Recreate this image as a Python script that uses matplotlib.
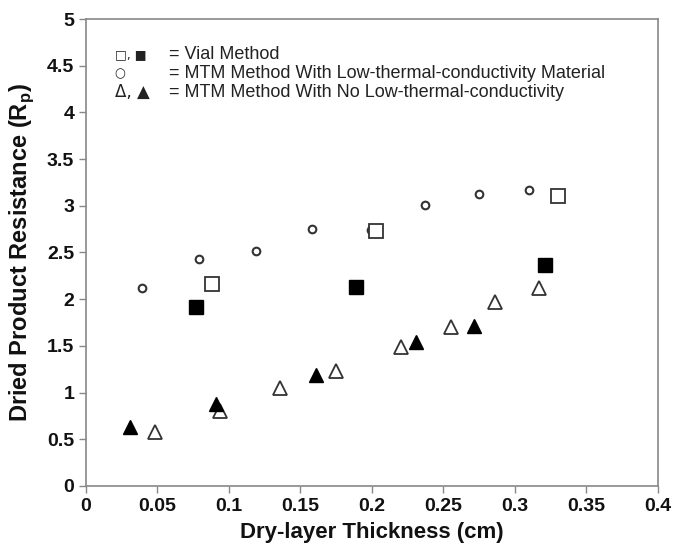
import matplotlib.pyplot as plt

plt.rcParams['font.family'] = ['Liberation Sans', 'DejaVu Sans']

# vial method
vial_open_x = [0.088, 0.203, 0.330]
vial_open_y = [2.16, 2.725, 3.11]
vial_fill_x = [0.077, 0.189, 0.321]
vial_fill_y = [1.92, 2.13, 2.37]

# MTM with low-thermal-conductivity material
mtm_low_x = [0.039, 0.079, 0.119, 0.158, 0.199, 0.237, 0.275, 0.310]
mtm_low_y = [2.12, 2.43, 2.52, 2.75, 2.745, 3.01, 3.125, 3.165]

# MTM with no low-thermal-conductivity material
mtm_no_open_x = [0.048, 0.094, 0.136, 0.175, 0.220, 0.255, 0.286, 0.317]
mtm_no_open_y = [0.58, 0.80, 1.05, 1.235, 1.49, 1.70, 1.97, 2.115]
mtm_no_fill_x = [0.031, 0.091, 0.161, 0.231, 0.271]
mtm_no_fill_y = [0.635, 0.875, 1.19, 1.545, 1.71]

xticks = [0, 0.05, 0.1, 0.15, 0.2, 0.25, 0.3, 0.35, 0.4]
xtick_labels = ['0', '0.05', '0.1', '0.15', '0.2', '0.25', '0.3', '0.35', '0.4']
yticks = [0, 0.5, 1, 1.5, 2, 2.5, 3, 3.5, 4, 4.5, 5]
ytick_labels = ['0', '0.5', '1', '1.5', '2', '2.5', '3', '3.5', '4', '4.5', '5']

fig = plt.figure(figsize=(6.75, 5.46), dpi=100)
ax = fig.add_axes([0.1274, 0.1099, 0.8474, 0.8553])

ax.plot(mtm_low_x, mtm_low_y, 'o', ms=5.5, mfc='white', mec='#333333', mew=1.5, ls='none')
ax.plot(vial_open_x, vial_open_y, 's', ms=10, mfc='white', mec='#333333', mew=1.3, ls='none')
ax.plot(vial_fill_x, vial_fill_y, 's', ms=10, mfc='black', mec='black', ls='none')
ax.plot(mtm_no_open_x, mtm_no_open_y, '^', ms=10, mfc='white', mec='#333333', mew=1.3, ls='none')
ax.plot(mtm_no_fill_x, mtm_no_fill_y, '^', ms=10, mfc='black', mec='black', ls='none')

ax.set_xlim(0, 0.4)
ax.set_ylim(0, 5)
ax.set_xticks(xticks)
ax.set_xticklabels(xtick_labels)
ax.set_yticks(yticks)
ax.set_yticklabels(ytick_labels)
for s in ax.spines.values():
    s.set_color('#888888')
    s.set_linewidth(1.2)
ax.tick_params(direction='out', length=5, width=1, color='#888888',
               labelsize=14, labelcolor='#111111')
for lab in ax.get_xticklabels() + ax.get_yticklabels():
    lab.set_fontweight('bold')

ax.set_xlabel('Dry-layer Thickness (cm)', fontsize=16, fontweight='bold',
              color='#111111', labelpad=5)
ax.set_ylabel('Dried Product Resistance (R$_\\mathregular{p}$)', fontsize=17,
              fontweight='bold', color='#111111', labelpad=8)

# legend as text block
leg_sym = ['\u25a1, \u25a0', '\u25cb', '\u0394, \u25b2']
leg_sym_size = [9, 9, 12]
leg_txt = ['= Vial Method',
           '= MTM Method With Low-thermal-conductivity Material',
           '= MTM Method With No Low-thermal-conductivity']
for i in range(3):
    yy = 0.9005 - i * 0.0348
    fig.text(0.170, yy, leg_sym[i], fontsize=leg_sym_size[i], color='#222222',
             va='center', ha='left', family=['DejaVu Sans'])
    fig.text(0.250, yy, leg_txt[i], fontsize=13, color='#222222',
             va='center', ha='left')

fig.savefig('out.png', dpi=100)
